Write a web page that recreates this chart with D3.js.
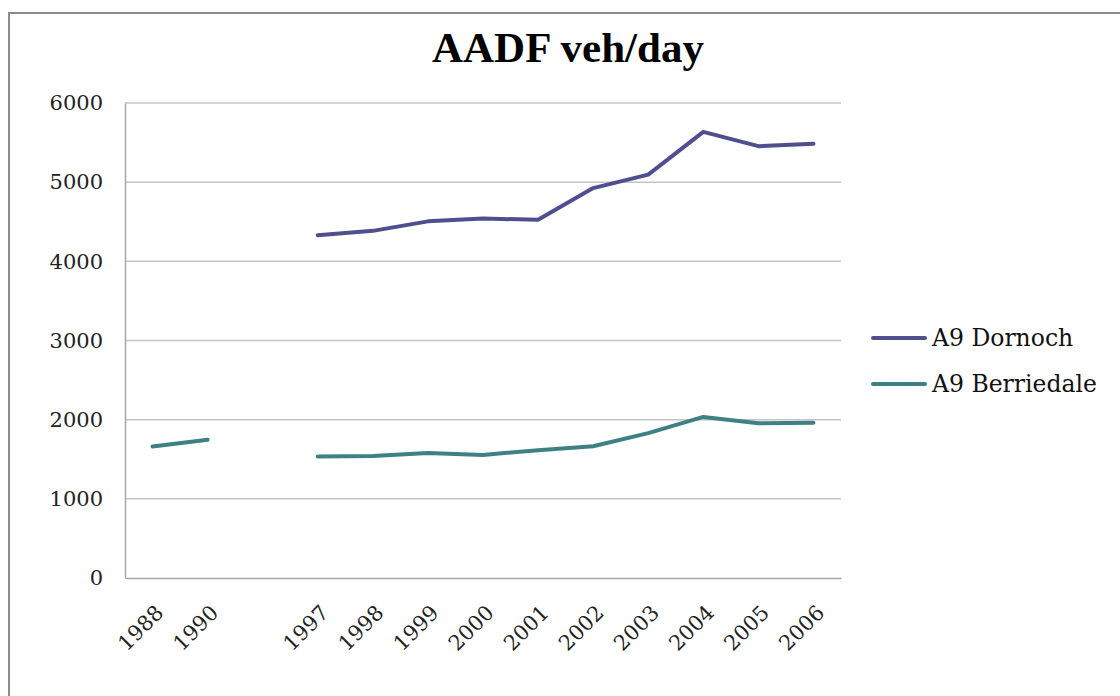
<!DOCTYPE html>
<html>
<head>
<meta charset="utf-8">
<script src="https://cdn.jsdelivr.net/npm/d3@7"></script>
<style>
  html, body { margin: 0; padding: 0; background: #fff; }
  svg { display: block; }
</style>
</head>
<body>
<svg id="chart" width="1120" height="696"></svg>
<script>
// Years on the category axis; the empty entry keeps a gap between 1990 and 1997
const years = ["1988", "1990", "", "1997", "1998", "1999", "2000", "2001", "2002", "2003", "2004", "2005", "2006"];
// Annual average daily flow, vehicles per day
const dornoch    = [null, null, null, 4330, 4385, 4505, 4540, 4525, 4925, 5095, 5635, 5455, 5485];
const berriedale = [1660, 1745, null, 1535, 1540, 1580, 1555, 1615, 1665, 1830, 2035, 1955, 1960];
const yTicks = [0, 1000, 2000, 3000, 4000, 5000, 6000];
const seriesNames = ["A9 Dornoch", "A9 Berriedale"];
const seriesColors = ["#4f4f8f", "#3e8084"];

const svg = d3.select("#chart");
const plot = { left: 125, right: 841, top: 103, bottom: 578 };
const tickFont = "'DejaVu Serif', Georgia, serif";

// Outer chart frame
svg.append("rect")
  .attr("x", 9).attr("y", 13).attr("width", 1130).attr("height", 700)
  .attr("fill", "none").attr("stroke", "#8c8c8c").attr("stroke-width", 2);

// Title
svg.append("text")
  .attr("x", 568).attr("y", 62)
  .attr("text-anchor", "middle")
  .attr("font-family", "'Liberation Serif', 'Times New Roman', serif")
  .attr("font-weight", "bold")
  .attr("font-size", 43)
  .attr("fill", "#000")
  .text("AADF veh/day");

const x = d3.scaleBand().domain(d3.range(years.length)).range([plot.left, plot.right]).padding(0);
const cx = i => x(i) + x.bandwidth() / 2;
const y = d3.scaleLinear().domain([0, 6000]).range([plot.bottom, plot.top]);

// Horizontal gridlines
svg.append("g")
  .selectAll("line")
  .data(yTicks.filter(v => v > 0))
  .join("line")
  .attr("x1", plot.left).attr("x2", plot.right)
  .attr("y1", d => y(d)).attr("y2", d => y(d))
  .attr("stroke", "#c4c4c4").attr("stroke-width", 1.5);

// Value axis
const yAxis = svg.append("g")
  .attr("transform", `translate(${plot.left},0)`)
  .call(d3.axisLeft(y).tickValues(yTicks).tickSize(0).tickPadding(22).tickFormat(d3.format("d")));
yAxis.select(".domain").attr("stroke", "#a6a6a6").attr("stroke-width", 1.5);
yAxis.selectAll("text")
  .attr("font-family", tickFont).attr("font-size", 21).attr("fill", "#222");

// Category axis
const xAxis = svg.append("g")
  .attr("transform", `translate(0,${plot.bottom})`)
  .call(d3.axisBottom(x).tickSize(0).tickFormat(i => years[i]));
xAxis.select(".domain").attr("stroke", "#a6a6a6").attr("stroke-width", 1.5);
xAxis.selectAll("text")
  .attr("font-family", tickFont).attr("font-size", 21).attr("fill", "#222")
  .attr("text-anchor", "end")
  .attr("dy", null)
  .attr("transform", "translate(10,34) rotate(-45)");

// Series lines
const line = d3.line()
  .defined(d => d.v != null)
  .x(d => cx(d.i))
  .y(d => y(d.v));

[dornoch, berriedale].forEach((vals, k) => {
  svg.append("path")
    .datum(vals.map((v, i) => ({ i, v })))
    .attr("fill", "none")
    .attr("stroke", seriesColors[k])
    .attr("stroke-width", 4)
    .attr("stroke-linejoin", "round")
    .attr("stroke-linecap", "round")
    .attr("d", line);
});

// Legend
const legend = svg.append("g").attr("transform", "translate(873,338)");
seriesNames.forEach((name, k) => {
  const g = legend.append("g").attr("transform", `translate(0,${k * 46})`);
  g.append("line")
    .attr("x1", 0).attr("x2", 52).attr("y1", 0).attr("y2", 0)
    .attr("stroke", seriesColors[k]).attr("stroke-width", 4).attr("stroke-linecap", "round");
  g.append("text")
    .attr("x", 59).attr("y", 8)
    .attr("font-family", tickFont).attr("font-size", 23.5).attr("fill", "#111")
    .text(name);
});
</script>
</body>
</html>
